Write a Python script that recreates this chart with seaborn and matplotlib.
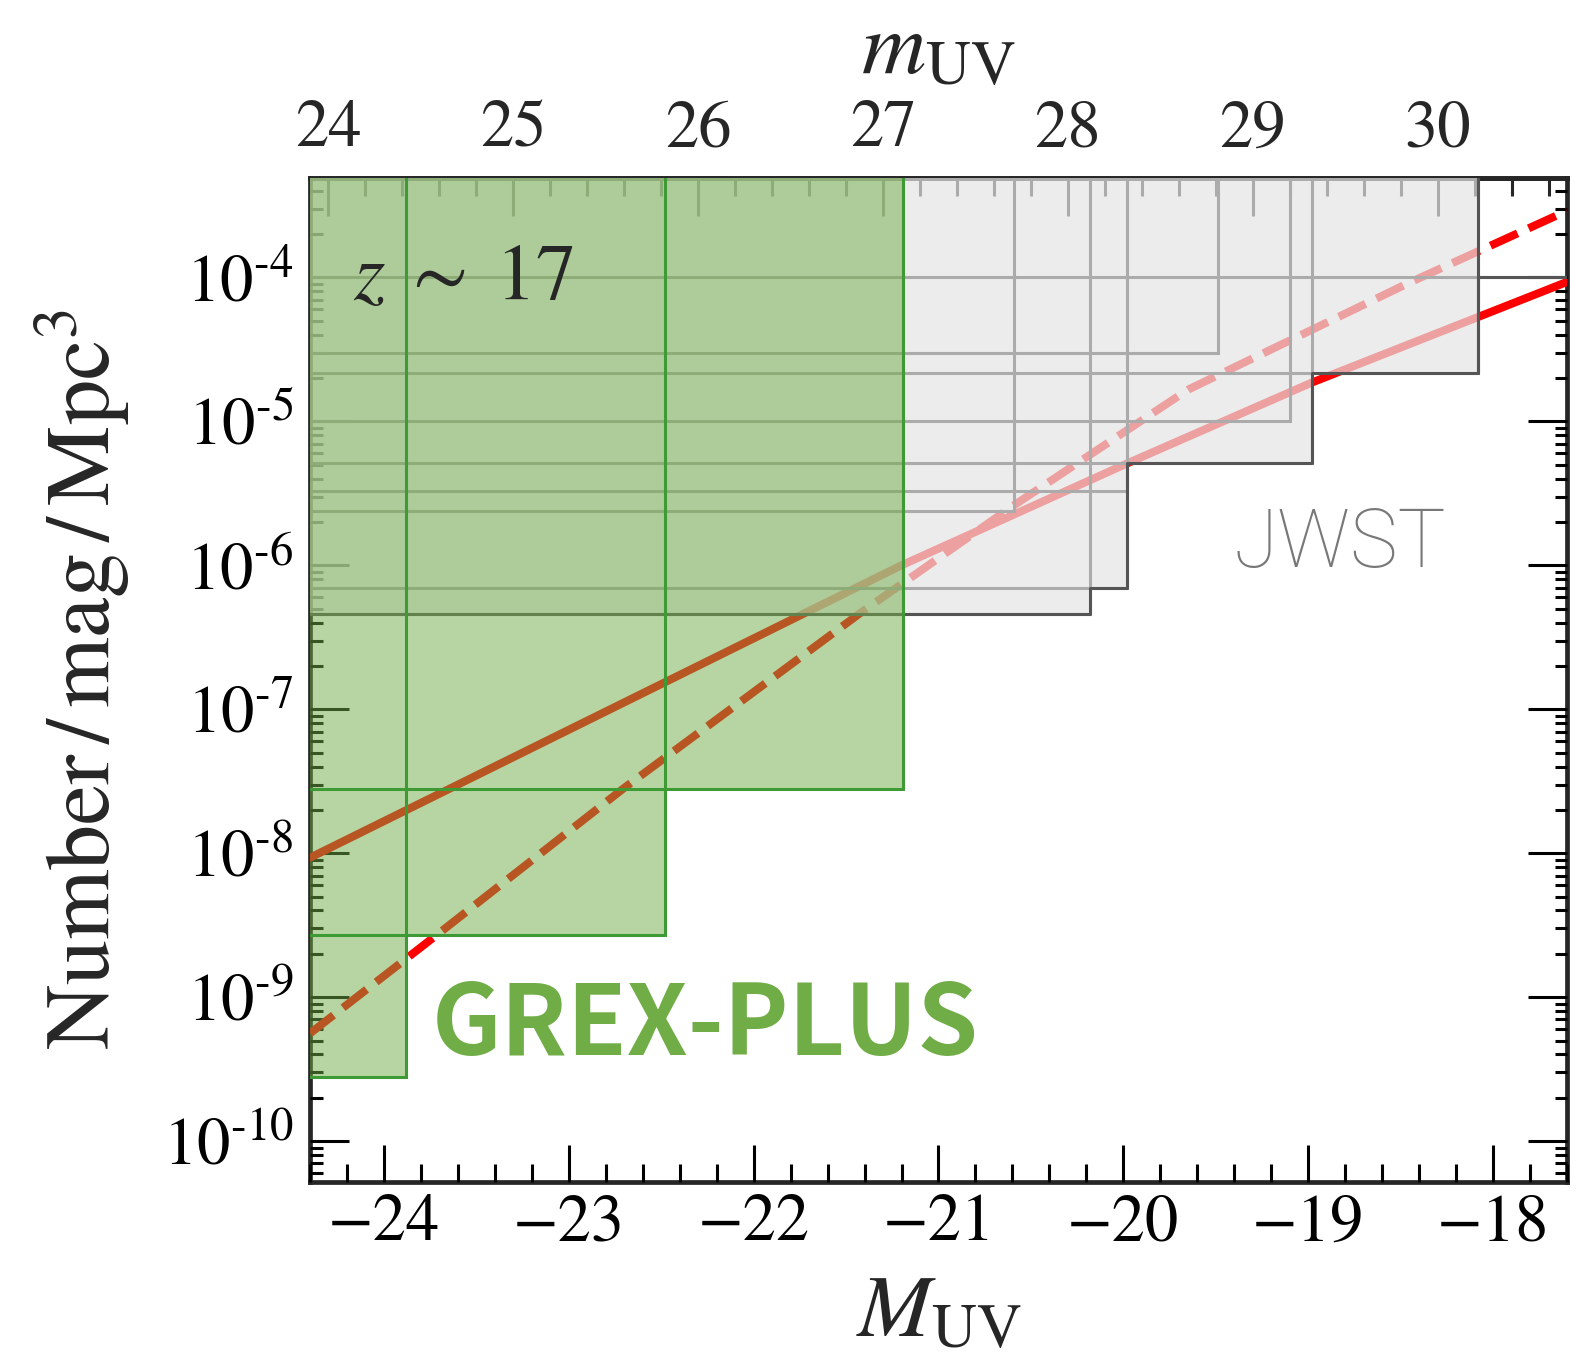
import numpy as np
import pandas as pd
import matplotlib
matplotlib.use("Agg")
import matplotlib.pyplot as plt
import seaborn as sns
from matplotlib.patches import Rectangle
from matplotlib.ticker import FixedLocator, LogLocator, MultipleLocator, NullFormatter

# --- data ---
M_LIMITS = [-24.4, -17.6]
PHI_LIMITS = [5.2e-11, 4.9e-4]
M_TO_APP = 48.3  # m_UV = M_UV + 48.3

# model luminosity functions
solid_M = [-24.4, -21.2, -19.98, -18.98, -17.6]
solid_phi = [9.3e-9, 1.0e-6, 5.1e-6, 1.86e-5, 9.3e-5]
dashed_M = [-24.4, -23.71, -22.71, -21.43, -20.60, -19.65, -18.46, -17.6]
dashed_phi = [5.6e-10, 2.73e-9, 2.78e-8, 4.59e-7, 2.57e-6, 1.66e-5, 9.1e-5, 2.9e-4]

# GREX-PLUS survey limits: bright edge of each box (M_UV) and number density floor
grex_Mmax = [-23.88, -22.48, -21.19]
grex_phi = [2.8e-10, 2.7e-9, 2.8e-8]

# JWST survey limits
jwst_Mmax = [-20.59, -20.18, -19.98, -19.98, -19.49, -19.10, -18.98, -18.08]
jwst_phi = [2.4e-6, 4.6e-7, 6.95e-7, 3.3e-6, 3.0e-5, 1.0e-5, 5.1e-6, 2.15e-5]
jwst_wide_phi = 1.0e-4  # wide survey floor, extends past the right edge

ytick_vals = [1e-10, 1e-9, 1e-8, 1e-7, 1e-6, 1e-5, 1e-4]
ytick_labels = ["$10^{\u2010 10}$", "$10^{\u2010 9}$", "$10^{\u2010 8}$", "$10^{\u2010 7}$",
                "$10^{\u2010 6}$", "$10^{\u2010 5}$", "$10^{\u2010 4}$"]
xtick_vals = [-24, -23, -22, -21, -20, -19, -18]
top_tick_vals = [24, 25, 26, 27, 28, 29, 30]

GREEN = "#70ad47"
GREEN_EDGE = "#3d9a35"
TOP = 1e-2
LEFT = -30


def envelope(mmax, phi):
    """Lower boundary of a set of boxes that all start far to the left."""
    mmax = np.asarray(mmax)
    phi = np.asarray(phi)
    edges = np.unique(mmax)
    xs, ys = [LEFT], []
    for e in edges:
        floor = phi[mmax >= e].min()
        ys += [floor, floor]
        xs += [e, e]
    xs = xs[:-1]
    return xs, ys


sns.set_style("ticks")
plt.rcParams["font.family"] = ["STIXGeneral", "DejaVu Sans"]
plt.rcParams["mathtext.fontset"] = "stix"

fig = plt.figure(figsize=(15.79, 13.58), dpi=100)
ax = fig.add_axes([0.1963, 0.1296, 0.7961, 0.7393])
ax.set_yscale("log")
ax.set_xlim(*M_LIMITS)
ax.set_ylim(*PHI_LIMITS)

# model lines
solid = pd.DataFrame({"M": solid_M, "phi": solid_phi})
dashed = pd.DataFrame({"M": dashed_M, "phi": dashed_phi})
sns.lineplot(data=solid, x="M", y="phi", color="red", lw=5.8, ax=ax, zorder=1)
sns.lineplot(data=dashed, x="M", y="phi", color="red", lw=5.8, ax=ax, zorder=1,
             linestyle=(0, (3.7, 1.5)))

# JWST boxes
xs, ys = envelope(jwst_Mmax, jwst_phi)
poly_x = xs + [xs[-1], LEFT]
poly_y = ys + [TOP, TOP]
ax.fill(poly_x, poly_y, color="#e5e5e5", alpha=0.7, lw=0, zorder=2)
for m, p in zip(jwst_Mmax + [-16.0], jwst_phi + [jwst_wide_phi]):
    ax.add_patch(Rectangle((LEFT, p), m - LEFT, TOP - p, fill=False,
                           ec="#ababab", lw=2.2, zorder=3))
ax.plot(xs + [xs[-1], xs[-1], -16.0], ys + [jwst_wide_phi, jwst_wide_phi, jwst_wide_phi],
        color="#555555", lw=2.2, zorder=3)
ax.plot([xs[-1], xs[-1]], [ys[-1], TOP], color="#555555", lw=2.2, zorder=3)

# GREX-PLUS boxes
gx, gy = envelope(grex_Mmax, grex_phi)
ax.fill(gx + [gx[-1], LEFT], gy + [TOP, TOP], color=GREEN, alpha=0.5, lw=0, zorder=4)
for m, p in zip(grex_Mmax, grex_phi):
    ax.add_patch(Rectangle((LEFT, p), m - LEFT, TOP - p, fill=False,
                           ec=GREEN_EDGE, lw=2.2, zorder=5))

# axes styling: ticks and frame sit below the shaded boxes
ax.set_axisbelow(True)
for s in ax.spines.values():
    s.set_zorder(0.5)
    s.set_linewidth(3.4)
ax.yaxis.set_major_locator(FixedLocator(ytick_vals))
ax.set_yticklabels(ytick_labels)
ax.yaxis.set_minor_locator(LogLocator(base=10, subs=np.arange(2, 10), numticks=20))
ax.yaxis.set_minor_formatter(NullFormatter())
ax.xaxis.set_major_locator(FixedLocator(xtick_vals))
ax.xaxis.set_minor_locator(MultipleLocator(0.2))
ax.tick_params(which="both", direction="in", top=False, right=True, width=2.2, colors="black")
ax.tick_params(axis="x", which="major", length=27, labelsize=48, pad=9)
ax.tick_params(axis="x", which="minor", length=13)
ax.tick_params(axis="y", which="major", length=28, labelsize=48, pad=12)
ax.tick_params(axis="y", which="minor", length=9)

secax = ax.secondary_xaxis("top", functions=(lambda M: M + M_TO_APP, lambda m: m - M_TO_APP))
secax.xaxis.set_major_locator(FixedLocator(top_tick_vals))
secax.xaxis.set_minor_locator(MultipleLocator(0.2))
secax.tick_params(which="both", direction="in", width=2.2)
secax.tick_params(which="major", length=27, labelsize=48, pad=12)
secax.tick_params(which="minor", length=13)
secax.spines["top"].set_linewidth(3.4)
secax.set_xlabel(r"$m_{\rm UV}$", fontsize=64, labelpad=19)

ax.set_xlabel(r"$M_{\rm UV}$", fontsize=64, labelpad=15)
ax.set_ylabel(r"Number$\,/\,$mag$\,/\,$Mpc$^3$", fontsize=65, labelpad=22)

ax.text(0.034, 0.880, r"$z\;\sim\;17$", transform=ax.transAxes, fontsize=58,
        ha="left", va="baseline", zorder=6)
ax.text(0.735, 0.6125, "JWST", transform=ax.transAxes, fontsize=58,
        family=["Roboto", "DejaVu Sans"], fontweight="light", color="#787878",
        ha="left", va="baseline", zorder=6)
ax.text(0.097, 0.1265, "GREX-PLUS", transform=ax.transAxes, fontsize=70,
        family=["Noto Sans CJK JP", "DejaVu Sans"], fontweight="bold", color=GREEN,
        ha="left", va="baseline", zorder=6)

fig.savefig("out.png", dpi=100)
